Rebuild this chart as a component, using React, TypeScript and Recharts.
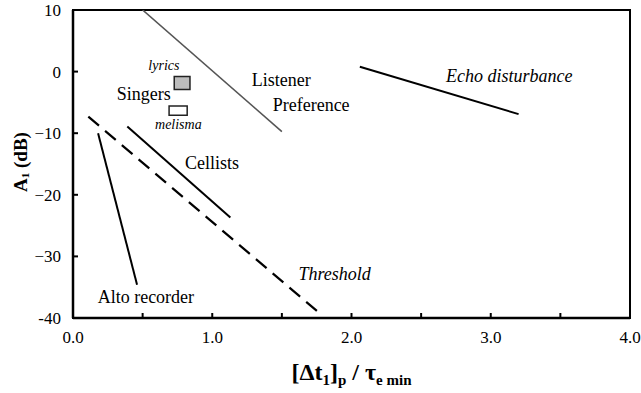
import { ComposedChart, Line, Scatter, XAxis, YAxis, ReferenceArea, Label } from "recharts";

const FONT = "'Liberation Serif', 'Times New Roman', Tinos, 'DejaVu Serif', serif";

const xTicks = [0, 0.5, 1, 1.5, 2, 2.5, 3, 3.5, 4];
const yTicks = [-40, -30, -20, -10, 0, 10];
const yTickLabels = ["-40", "\u221230", "\u221220", "\u221210", "0", "10"];

// straight-line segments
const listenerPref = [
  { x: 0.5, y: 10 },
  { x: 1.5, y: -9.75 },
];
const echoDisturbance = [
  { x: 2.06, y: 0.8 },
  { x: 3.2, y: -6.9 },
];
const cellists = [
  { x: 0.39, y: -8.9 },
  { x: 1.13, y: -23.7 },
];
const threshold = [
  { x: 0.11, y: -7.3 },
  { x: 1.78, y: -39.4 },
];
const altoRecorder = [
  { x: 0.18, y: -10 },
  { x: 0.46, y: -34.6 },
];

// singers boxes
const lyricsBox = { x1: 0.727, x2: 0.84, y1: -2.9, y2: -0.8 };
const melismaBox = { x1: 0.69, x2: 0.82, y1: -7.1, y2: -5.6 };

// text notes, anchored at left end of baseline
const notes = [
  { x: 0.541, y: 0.26, text: "lyrics" },
  { x: 0.314, y: -4.61, text: "Singers" },
  { x: 0.589, y: -9.32, text: "melisma" },
  { x: 1.283, y: -2.34, text: "Listener" },
  { x: 1.434, y: -6.35, text: "Preference" },
  { x: 2.679, y: -1.64, text: "Echo disturbance" },
  { x: 0.804, y: -15.86, text: "Cellists" },
  { x: 1.619, y: -33.91, text: "Threshold" },
  { x: 0.177, y: -37.61, text: "Alto recorder" },
];

const italicNotes = ["lyrics", "melisma", "Echo disturbance", "Threshold"];
const smallNotes = ["lyrics", "melisma"];

function NoteText(props: any) {
  const { cx, cy, payload } = props;
  const t = payload.text;
  return (
    <text
      x={cx}
      y={cy}
      fontFamily={FONT}
      fontSize={smallNotes.includes(t) ? 14 : 18}
      fontStyle={italicNotes.includes(t) ? "italic" : "normal"}
      fill="#000"
    >
      {t}
    </text>
  );
}

function XTick(props: any) {
  const { x, y, payload } = props;
  const v = payload.value;
  return (
    <g>
      {v > 0 && v < 4 && <line x1={x} x2={x} y1={y} y2={y - 5} stroke="#000" strokeWidth={2} />}
      {Number.isInteger(v) && (
        <text x={x} y={y + 25} textAnchor="middle" fontFamily={FONT} fontSize={17} fill="#000">
          {v.toFixed(1)}
        </text>
      )}
    </g>
  );
}

function YTick(props: any) {
  const { x, y, payload } = props;
  const v = payload.value;
  const i = yTicks.indexOf(v);
  return (
    <g>
      {v > -40 && v < 10 && <line x1={x} x2={x + 5} y1={y} y2={y} stroke="#000" strokeWidth={2} />}
      <text x={x - 12} y={y} dy="0.35em" textAnchor="end" fontFamily={FONT} fontSize={17} fill="#000">
        {yTickLabels[i]}
      </text>
    </g>
  );
}

function XTitle(props: any) {
  const vb = props.viewBox;
  const cx = vb.x + vb.width / 2;
  return (
    <text x={cx} y={380} textAnchor="middle" fontFamily={FONT} fontWeight="bold" fontSize={24} fill="#000">
      [Δt
      <tspan fontSize={15} dy={5}>1</tspan>
      <tspan dy={-5}>]</tspan>
      <tspan fontSize={15} dy={5}>p</tspan>
      <tspan dy={-5}> / τ</tspan>
      <tspan fontSize={15} dy={5}>e min</tspan>
    </text>
  );
}

function YTitle(props: any) {
  const vb = props.viewBox;
  const cx = 20;
  const cy = vb.y + vb.height / 2 - 2;
  return (
    <text
      x={cx}
      y={cy}
      transform={`rotate(-90 ${cx} ${cy})`}
      textAnchor="middle"
      dy="0.35em"
      fontFamily={FONT}
      fontWeight="bold"
      fontSize={19}
      fill="#000"
    >
      A<tspan fontSize={11} dy={2}>1</tspan>
      <tspan dy={-2}>{"  (dB)"}</tspan>
    </text>
  );
}

export default function App() {
  return (
    <div
      style={{
        position: "absolute",
        left: 0,
        top: 0,
        width: 641,
        height: 393,
        background: "#fff",
        fontFamily: FONT,
      }}
    >
      <ComposedChart width={641} height={393} margin={{ top: 10, right: 11, left: 0, bottom: 0 }}>
        <XAxis
          dataKey="x"
          type="number"
          domain={[0, 4]}
          ticks={xTicks}
          interval={0}
          height={75}
          tickSize={0}
          tickMargin={0}
          tickLine={false}
          tick={<XTick />}
          axisLine={{ stroke: "#000", strokeWidth: 2.5 }}
          allowDataOverflow
        >
          <Label content={(p: any) => <XTitle {...p} />} />
        </XAxis>
        <YAxis
          type="number"
          domain={[-40, 10]}
          ticks={yTicks}
          interval={0}
          width={73}
          tickSize={0}
          tickMargin={0}
          tickLine={false}
          tick={<YTick />}
          axisLine={{ stroke: "#000", strokeWidth: 2.5 }}
          allowDataOverflow
        >
          <Label content={(p: any) => <YTitle {...p} />} />
        </YAxis>
        <ReferenceArea x1={0} x2={4} y1={-40} y2={10} fill="none" stroke="#000" strokeWidth={2} />
        <ReferenceArea {...lyricsBox} fill="#bdbdbd" fillOpacity={1} stroke="#222" strokeWidth={1.5} />
        <ReferenceArea {...melismaBox} fill="#fff" fillOpacity={1} stroke="#222" strokeWidth={1.5} />
        <Line data={listenerPref} dataKey="y" stroke="#555" strokeWidth={1.6} dot={false} isAnimationActive={false} />
        <Line data={echoDisturbance} dataKey="y" stroke="#000" strokeWidth={2} dot={false} isAnimationActive={false} />
        <Line data={cellists} dataKey="y" stroke="#000" strokeWidth={2} dot={false} isAnimationActive={false} />
        <Line data={threshold} dataKey="y" stroke="#000" strokeWidth={2.2} strokeDasharray="14 8" dot={false} isAnimationActive={false} />
        <Line data={altoRecorder} dataKey="y" stroke="#000" strokeWidth={2} dot={false} isAnimationActive={false} />
        <Scatter data={notes} dataKey="y" shape={(p: any) => <NoteText {...p} />} isAnimationActive={false} />
      </ComposedChart>
    </div>
  );
}
